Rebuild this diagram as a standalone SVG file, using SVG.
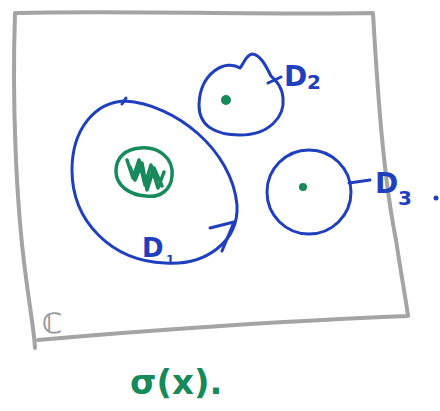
<svg xmlns="http://www.w3.org/2000/svg" width="440" height="411" viewBox="0 0 440 411">
<style>
.blue{fill:none;stroke:#1f3fbf;stroke-width:3;stroke-linecap:round;stroke-linejoin:round}
.green{fill:none;stroke:#168a5a;stroke-width:3.5;stroke-linecap:round;stroke-linejoin:round}
.gray{fill:none;stroke:#a4a4a4;stroke-width:4;stroke-linecap:round;stroke-linejoin:round}
.lbl{font-family:"DejaVu Sans",sans-serif;font-weight:bold;fill:#1f3fbf}
.dot{fill:#168a5a}
</style>
<rect width="440" height="411" fill="#ffffff"/>
<g id="plane">
<path class="gray" d="M15,13 C120,10 250,15 373,13 C378,100 384,180 396,240 C402,280 406,300 408,316 C300,320 150,330 38,340 M15,13 C12,100 16,200 25,270 C30,310 34,330 35,348"/>
<text x="42" y="333" font-family="DejaVu Sans,sans-serif" font-weight="bold" font-size="28" fill="#9a9a9a">ℂ</text>
</g>
<g id="D1">
<path class="blue" d="M125,101 C175,104 232,150 237,205 C239,242 205,266 165,263 C112,261 72,222 72,170 C72,128 96,102 125,101 Z"/>
<path class="blue" d="M210,228 L234,222 L222,251"/>
<path class="blue" d="M122,104 L126,98"/>
<path class="green" d="M140,148 C158,146 174,158 172,176 C171,190 160,198 146,196 C130,195 116,186 116,171 C116,157 126,149 140,148 Z"/>
<path class="green" d="M127,160 L133,178 L139,160 L145,185 L151,165 L158,188 L164,172 M130,167 L135,180 L142,163 L147,190 L154,168 L162,186"/>
<text class="lbl" x="142" y="257" font-size="26">D</text>
<text class="lbl" x="166" y="264" font-size="12">1</text>
</g>
<g id="D2">
<path class="blue" d="M240,68 C226,59 200,72 199,105 C199,126 215,135 240,135 C270,135 285,116 283,98 C282,86 276,81 271,76 C266,66 260,54 252,54 C246,55 244,63 240,68 Z"/>
<circle class="dot" cx="226" cy="100" r="5"/>
<text class="lbl" x="284" y="86" font-size="28">D</text>
<text class="lbl" x="307" y="89" font-size="20">2</text>
</g>
<g id="D3">
<circle class="blue" cx="309" cy="192" r="42"/>
<circle class="dot" cx="303" cy="187" r="4"/>
<text class="lbl" x="375" y="193" font-size="28">D</text>
<text class="lbl" x="398" y="205" font-size="20">3</text>
<circle cx="436" cy="198" r="2.5" fill="#1f3fbf"/>
</g>
<g id="connectors">
<path class="blue" d="M268,83 L281,77"/>
<path class="blue" d="M349,183 L370,180"/>
</g>
<g id="caption">
<text x="130" y="394" font-family="DejaVu Sans,sans-serif" font-weight="bold" font-size="34" fill="#168a5a">σ(x).</text>
</g>
</svg>
